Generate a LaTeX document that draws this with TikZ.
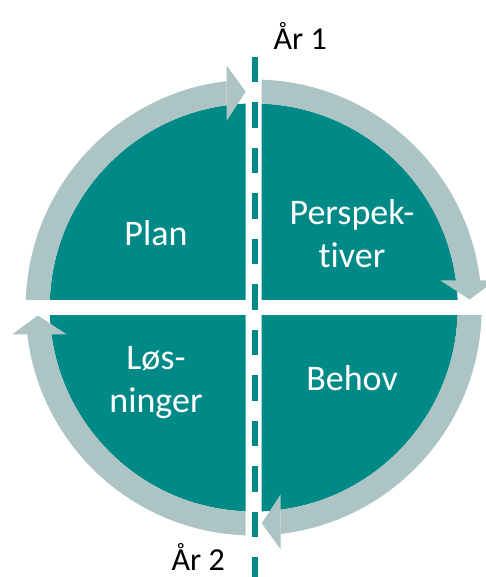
\documentclass[tikz,border=0pt]{standalone}
\usepackage{fontspec}
\setmainfont{Carlito}[Ligatures=NoCommon]
\definecolor{kvartal}{RGB}{0,138,135}
\definecolor{pilgraa}{RGB}{172,197,196}
\tikzset{
  felt/.style={white, font=\fontsize{36}{43}\selectfont, align=center, inner sep=0pt},
  aar/.style={black, font=\fontsize{32}{38}\selectfont, inner sep=0pt, text depth=0pt, anchor=base west}
}
\begin{document}
\begin{tikzpicture}[x=1pt,y=1pt]
  \useasboundingbox (0,0) rectangle (486,577);
  \coordinate (c) at (253.7,269.5);
  % fire kvartaler med pil rundt
  \foreach \rot in {0,-90,-180,-270} {
    \begin{scope}[shift={(c)},rotate=\rot]
      \begin{scope}
        \clip (-8,8) -- (-8,240) -- (-240,240) -- (-240,8) -- cycle;
        \fill [kvartal] (0,0) circle (204);
      \end{scope}
      \begin{scope}
        \clip (-27,8) -- (-27,240) -- (-240,240) -- (-240,8) -- cycle;
        \fill [pilgraa,even odd rule] (0,0) circle (228) (0,0) circle (204);
      \end{scope}
      \fill [pilgraa] (-8,215.85) -- (-27,241.8) -- (-27,186.8) -- cycle;
    \end{scope}
  }
  \draw [kvartal,line width=6pt,dash pattern=on 25.5pt off 20pt] (254.5,520) -- (254.5,-10);
  \node [felt,anchor=base] (plan) at (156,331) {Plan};
  \node [felt,anchor=base] (perspektiver) at (352,309.7) {Perspek-\\tiver};
  \node [felt,anchor=base] (behov) at (352,186.3) {Behov};
  \node [felt,anchor=base] (losninger) at (156,164.3) {Løs-\\ninger};
  \node [aar] (aar1) at (273.5,527) {År 1};
  \node [aar] (aar2) at (171.5,6) {År 2};
\end{tikzpicture}
\end{document}
